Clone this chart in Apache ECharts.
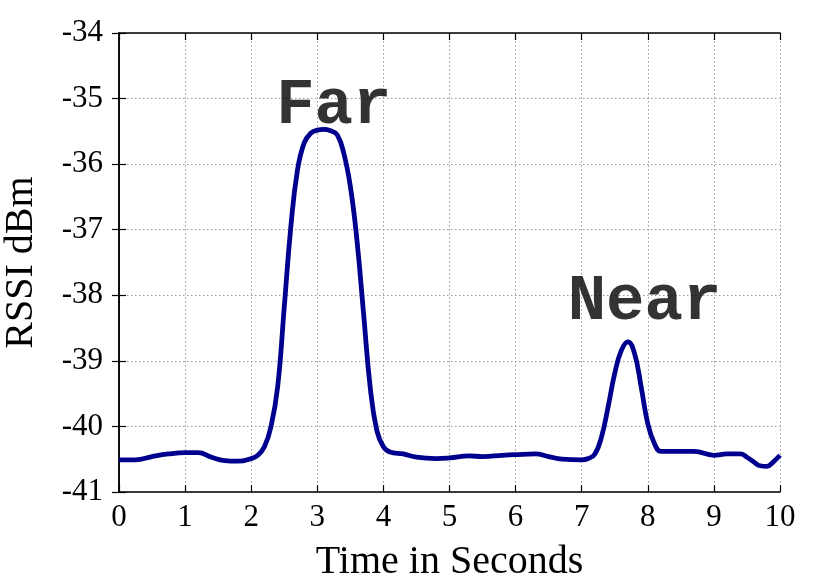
<!DOCTYPE html>
<html><head><meta charset="utf-8">
<script src="https://cdn.jsdelivr.net/npm/echarts@6/dist/echarts.min.js"></script>
<style>html,body{margin:0;padding:0;background:#fff}#c{width:830px;height:581px}</style>
</head><body><div id="c"></div>
<script>
var times = [0,0.25,0.5,0.75,1.0,1.2,1.4,1.6,1.8,2.0,2.1,2.2,2.3,2.4,2.5,2.6,2.7,2.8,2.9,3.0,3.1,3.2,3.3,3.4,3.5,3.6,3.7,3.8,3.9,4.0,4.1,4.3,4.5,4.8,5.0,5.3,5.5,5.8,6.0,6.3,6.5,6.7,7.0,7.1,7.2,7.3,7.4,7.5,7.6,7.7,7.8,7.9,8.0,8.1,8.2,8.4,8.7,9.0,9.2,9.4,9.5,9.6,9.7,9.8,9.9,10];
var rssi = [-40.51,-40.51,-40.46,-40.42,-40.40,-40.40,-40.47,-40.52,-40.53,-40.49,-40.44,-40.31,-40.0,-39.40,-38.18,-36.95,-36.09,-35.68,-35.53,-35.48,-35.47,-35.49,-35.55,-35.83,-36.34,-37.16,-38.28,-39.40,-40.06,-40.31,-40.39,-40.42,-40.47,-40.49,-40.48,-40.45,-40.46,-40.44,-40.43,-40.42,-40.46,-40.50,-40.51,-40.49,-40.42,-40.16,-39.70,-39.19,-38.84,-38.71,-38.89,-39.40,-39.96,-40.26,-40.38,-40.38,-40.38,-40.44,-40.42,-40.42,-40.47,-40.54,-40.60,-40.61,-40.54,-40.44];
var annotations = [{name:'Far', x:3.25, y:-35.12},{name:'Near', x:7.95, y:-38.12}];
var xTitle = 'Time in Seconds', yTitle = 'RSSI dBm';

var serif = '"Liberation Serif","Times New Roman",serif';
var lineData = times.map(function(t,i){return [t, rssi[i]];});
var chart = echarts.init(document.getElementById('c'), null, {renderer:'canvas'});
var axisLine = {show:true, lineStyle:{color:'#000', width:1.5}};
var tick = {show:true, inside:true, length:7, lineStyle:{color:'#000', width:1.2}};
var split = {show:true, lineStyle:{color:'#999', width:1, type:[1.5,2.5]}};
chart.setOption({
  animation:false,
  grid:{left:119, right:50, top:33, bottom:89, containLabel:false, outerBoundsMode:'none'},
  xAxis:[{type:'value', min:0, max:10, interval:1, position:'bottom',
    name:xTitle, nameLocation:'middle', nameGap:50,
    nameTextStyle:{fontFamily:serif, fontSize:40, color:'#000'},
    axisLine:axisLine, axisTick:tick, splitLine:split,
    axisLabel:{fontFamily:serif, fontSize:31, color:'#000', margin:10}},
   {type:'value', min:0, max:10, interval:1, position:'top',
    axisLine:axisLine, axisTick:tick, splitLine:{show:false}, axisLabel:{show:false}}],
  yAxis:[{type:'value', min:-41, max:-34, interval:1, position:'left',
    name:yTitle, nameLocation:'middle', nameGap:78, nameRotate:90,
    nameTextStyle:{fontFamily:serif, fontSize:40, color:'#000'},
    axisLine:axisLine, axisTick:tick, splitLine:split,
    axisLabel:{fontFamily:serif, fontSize:31, color:'#000', margin:16}},
   {type:'value', min:-41, max:-34, interval:1, position:'right',
    axisLine:axisLine, axisTick:tick, splitLine:{show:false}, axisLabel:{show:false}}],
  series:[
    {type:'line', data:lineData, smooth:0.45, showSymbol:false, symbol:'none',
     lineStyle:{color:'#00008f', width:4.8}},
    {type:'scatter', symbolSize:0, data:annotations.map(function(a){return {value:[a.x,a.y], name:a.name};}),
     label:{show:true, position:'inside', formatter:'{b}', fontFamily:'"Liberation Mono","Courier New",monospace',
       fontWeight:'bold', fontSize:64, color:'#000', textBorderWidth:0}}
  ]
});
</script></body></html>
